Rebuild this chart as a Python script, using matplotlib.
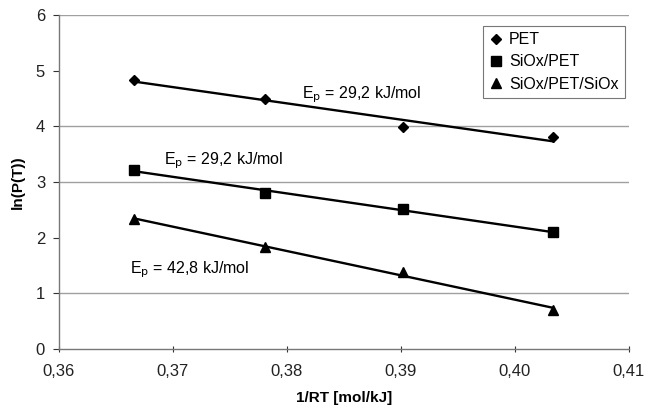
import numpy as np
import matplotlib
matplotlib.use('Agg')
import matplotlib.pyplot as plt

plt.rcParams['font.family'] = ['Liberation Sans', 'DejaVu Sans']

# data
inv_rt = [0.3666, 0.3781, 0.3902, 0.4034]
ln_pet = [4.83, 4.49, 3.99, 3.80]
ln_siox_pet = [3.22, 2.80, 2.51, 2.10]
ln_siox_pet_siox = [2.33, 1.83, 1.38, 0.70]

series_labels = ['PET', 'SiOx/PET', 'SiOx/PET/SiOx']
series_markers = ['D', 's', '^']
ep_labels = ['29,2', '29,2', '42,8']
ep_pos = [(0.3813, 4.56), (0.3692, 3.39), (0.3662, 1.42)]

x_ticks = [0.36, 0.37, 0.38, 0.39, 0.40, 0.41]
y_ticks = [0, 1, 2, 3, 4, 5, 6]
grid_levels = [1, 3, 4, 6]

fig = plt.figure(figsize=(6.48, 4.13), dpi=100)
ax = fig.add_axes([0.091, 0.155, 0.879, 0.809])

for yv in grid_levels:
    ax.axhline(yv, color='#a0a0a0', linewidth=1.0, zorder=1)

x = np.array(inv_rt)
handles = []
for ys, lab, mk in zip([ln_pet, ln_siox_pet, ln_siox_pet_siox], series_labels, series_markers):
    ms = 5 if mk == 'D' else 6.5
    h, = ax.plot(x, ys, linestyle='none', marker=mk, color='black', markersize=ms, label=lab, zorder=3)
    handles.append(h)
    k, b = np.polyfit(x, ys, 1)
    ax.plot(x, k * x + b, color='black', linewidth=1.7, zorder=2)

for txt, (tx, ty) in zip(ep_labels, ep_pos):
    ax.text(tx, ty, r'E$_\mathrm{p}$ = ' + txt + ' kJ/mol', fontsize=11.5, va='center', ha='left')

ax.set_xlim(0.36, 0.41)
ax.set_ylim(0, 6)
ax.set_xticks(x_ticks)
ax.set_xticklabels([f'{v:.2f}'.replace('.', ',') for v in x_ticks])
ax.set_yticks(y_ticks)
ax.tick_params(axis='both', labelsize=12, colors='#333333', labelcolor='#222222')
ax.tick_params(axis='x', direction='inout', length=5, pad=8)
ax.tick_params(axis='y', direction='out', length=4, pad=6)

for side in ['top', 'right']:
    ax.spines[side].set_visible(False)
for side in ['left', 'bottom']:
    ax.spines[side].set_color('#777777')
    ax.spines[side].set_linewidth(1.0)

ax.set_xlabel('1/RT [mol/kJ]', fontsize=11, fontweight='bold', labelpad=9)
ax.set_ylabel('ln(P(T))', fontsize=11, fontweight='bold', labelpad=8)

leg = ax.legend(handles=handles, loc='upper left', bbox_to_anchor=(0.745, 0.967),
                fontsize=11.5, frameon=True, fancybox=False, handlelength=0.8,
                handletextpad=0.4, borderpad=0.4, labelspacing=0.45, borderaxespad=0)
leg.get_frame().set_edgecolor('#555555')
leg.get_frame().set_linewidth(0.8)

fig.savefig('out.png', dpi=100)
